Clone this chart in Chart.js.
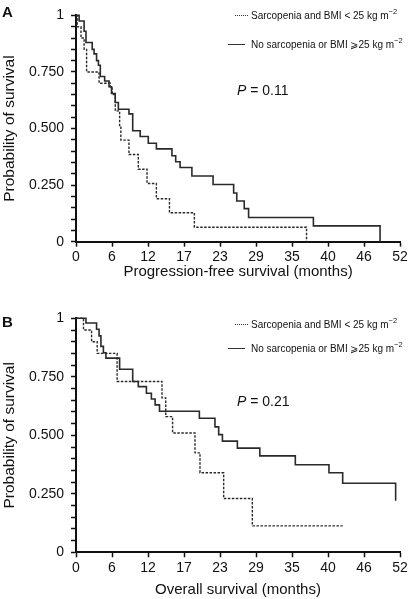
<!DOCTYPE html>
<html>
<head>
<meta charset="utf-8">
<script src="https://cdn.jsdelivr.net/npm/chart.js@4/dist/chart.umd.min.js"></script>
<style>
  body { margin: 0; background: #fff; font-family: "Liberation Sans", Arial, sans-serif; color: #111; }
  #wrap { position: relative; width: 410px; height: 599px; overflow: hidden; }
  canvas { position: absolute; left: 0; }
  .lbl { position: absolute; font-weight: bold; font-size: 15px; line-height: 1; }
  .leg { position: absolute; font-size: 10px; line-height: 13px; white-space: nowrap; }
  .leg sup { font-size: 7.5px; line-height: 0; vertical-align: 5px; }
  .sw { position: absolute; top: 6px; height: 0; }
  .pv { position: absolute; font-size: 14px; line-height: 16px; }
</style>
</head>
<body>
<div id="wrap">
  <canvas id="chartA" width="410" height="282" style="top:0"></canvas>
  <canvas id="chartB" width="410" height="299" style="top:300px"></canvas>

  <div class="lbl" style="left:2px; top:4px">A</div>
  <div class="lbl" style="left:2px; top:314px">B</div>

  <div class="leg" style="left:251px; top:9px"><span class="sw" style="left:-16px; width:13px; border-top:1.3px dotted #333"></span>Sarcopenia and BMI &lt; 25 kg m<sup>−2</sup></div>
  <div class="leg" style="left:251px; top:38px"><span class="sw" style="left:-23px; width:17px; border-top:1.3px solid #333"></span>No sarcopenia or BMI ⩾25 kg m<sup>−2</sup></div>
  <div class="pv" style="left:237px; top:82px"><i>P</i> = 0.11</div>

  <div class="leg" style="left:251px; top:318px"><span class="sw" style="left:-16px; width:13px; border-top:1.3px dotted #333"></span>Sarcopenia and BMI &lt; 25 kg m<sup>−2</sup></div>
  <div class="leg" style="left:251px; top:342px"><span class="sw" style="left:-23px; width:17px; border-top:1.3px solid #333"></span>No sarcopenia or BMI ⩾25 kg m<sup>−2</sup></div>
  <div class="pv" style="left:237px; top:393px"><i>P</i> = 0.21</div>
</div>

<script>
// Datos (tiempo en meses, probabilidad de supervivencia)
const xTickLabels = ["0", "6", "12", "17", "23", "29", "35", "40", "46", "52"];
const xMax = 52;
const yTickValues = [0, 0.05, 0.1, 0.15, 0.2, 0.25, 0.3, 0.35, 0.4, 0.45, 0.5, 0.55, 0.6, 0.65, 0.7, 0.75, 0.8, 0.85, 0.9, 0.95, 1];
const yTickText = { "0": "0", "0.25": "0.250", "0.5": "0.500", "0.75": "0.750", "1": "1" };

// A: progression-free survival
const pfsSolidTime = [0, 0.5, 1.3, 1.6, 2.6, 2.9, 3.3, 3.6, 3.9, 4.6, 5.3, 5.7, 6.3, 6.8, 8.5, 9.1, 10.3, 11.6, 12.9, 15.4, 16.0, 16.7, 18.6, 22.0, 25.3, 25.8, 27.0, 27.7, 38.1, 48.8];
const pfsSolidSurv = [1, 0.975, 0.93, 0.88, 0.85, 0.83, 0.80, 0.78, 0.73, 0.71, 0.685, 0.655, 0.615, 0.585, 0.565, 0.49, 0.465, 0.435, 0.41, 0.38, 0.353, 0.328, 0.29, 0.253, 0.215, 0.18, 0.146, 0.107, 0.07, 0];
const pfsDashTime = [0, 0.2, 0.8, 1.3, 1.7, 3.7, 5.5, 5.8, 6.3, 7.0, 7.2, 8.5, 10.0, 11.4, 12.9, 15.0, 19.0, 37.0];
const pfsDashSurv = [1, 0.95, 0.90, 0.85, 0.75, 0.70, 0.685, 0.65, 0.578, 0.51, 0.449, 0.385, 0.32, 0.257, 0.19, 0.128, 0.064, 0];

// B: overall survival
const osSolidTime = [0, 1.6, 3.3, 3.7, 4.0, 4.4, 4.8, 7.0, 9.1, 10.0, 11.3, 12.1, 12.7, 13.4, 19.8, 22.3, 22.9, 23.5, 25.9, 29.5, 35.2, 40.6, 42.8, 51.3];
const osSolidSurv = [1, 0.98, 0.953, 0.925, 0.88, 0.853, 0.83, 0.782, 0.73, 0.708, 0.68, 0.655, 0.63, 0.603, 0.573, 0.536, 0.503, 0.475, 0.445, 0.412, 0.374, 0.34, 0.295, 0.22];
const osDashTime = [0, 1.2, 2.5, 3.4, 6.6, 13.8, 14.4, 15.5, 19.1, 19.9, 23.7, 28.3, 42.8];
const osDashSurv = [1, 0.95, 0.90, 0.85, 0.73, 0.66, 0.58, 0.51, 0.425, 0.34, 0.23, 0.113, 0.113];

const FONT = "'Liberation Sans', Arial, sans-serif";

function toPoints(t, s) {
  return t.map((x, i) => ({ x: x, y: s[i] }));
}

function makeChart(id, solidT, solidS, dashT, dashS, xTitle, padTop, axisBottom, titlePad) {
  const cv = document.getElementById(id);
  return new Chart(cv, {
    type: "line",
    data: {
      datasets: [
        { data: toPoints(dashT, dashS), borderColor: "#2a2a2a", borderWidth: 1.4, borderDash: [2.5, 1.5], stepped: "before", pointRadius: 0, fill: false },
        { data: toPoints(solidT, solidS), borderColor: "#2a2a2a", borderWidth: 1.6, stepped: "before", pointRadius: 0, fill: false }
      ]
    },
    options: {
      responsive: false,
      animation: false,
      clip: false,
      layout: { padding: { top: padTop, right: 10, bottom: 0, left: 0 } },
      plugins: { legend: { display: false }, tooltip: { enabled: false } },
      scales: {
        x: {
          type: "linear", min: 0, max: xMax,
          afterBuildTicks: (s) => { s.ticks = xTickLabels.map((l, i) => ({ value: i * xMax / (xTickLabels.length - 1) })); },
          afterFit: (s) => { s.height = axisBottom; },
          ticks: { autoSkip: false, maxRotation: 0, padding: 2, color: "#111", font: { family: FONT, size: 14 },
                   callback: (v, i) => xTickLabels[i] },
          grid: { drawOnChartArea: false, drawTicks: true, tickLength: 5, tickColor: "#111", tickWidth: 1.5 },
          border: { display: true, color: "#111", width: 2 },
          title: { display: true, text: xTitle, color: "#111", font: { family: FONT, size: 15 }, padding: { top: 0, bottom: titlePad } }
        },
        y: {
          type: "linear", min: 0, max: 1,
          afterBuildTicks: (s) => { s.ticks = yTickValues.map(v => ({ value: v })); },
          afterFit: (s) => { s.width = 76; },
          ticks: { autoSkip: false, padding: 7, color: "#111", font: { family: FONT, size: 14 },
                   callback: (v) => yTickText[String(Math.round(v * 100) / 100)] || "" },
          grid: { drawOnChartArea: false, drawTicks: true, tickLength: 5, tickColor: "#111", tickWidth: 1.5 },
          border: { display: true, color: "#111", width: 2 },
          title: { display: true, text: "Probability of survival", color: "#111", font: { family: FONT, size: 15.5 }, padding: { top: 0, bottom: 0 } }
        }
      }
    }
  });
}

makeChart("chartA", pfsSolidTime, pfsSolidSurv, pfsDashTime, pfsDashSurv, "Progression-free survival (months)", 8, 40.3, 1);
makeChart("chartB", osSolidTime, osSolidSurv, osDashTime, osDashSurv, "Overall survival (months)", 18.3, 46.7, 0);
</script>
</body>
</html>
